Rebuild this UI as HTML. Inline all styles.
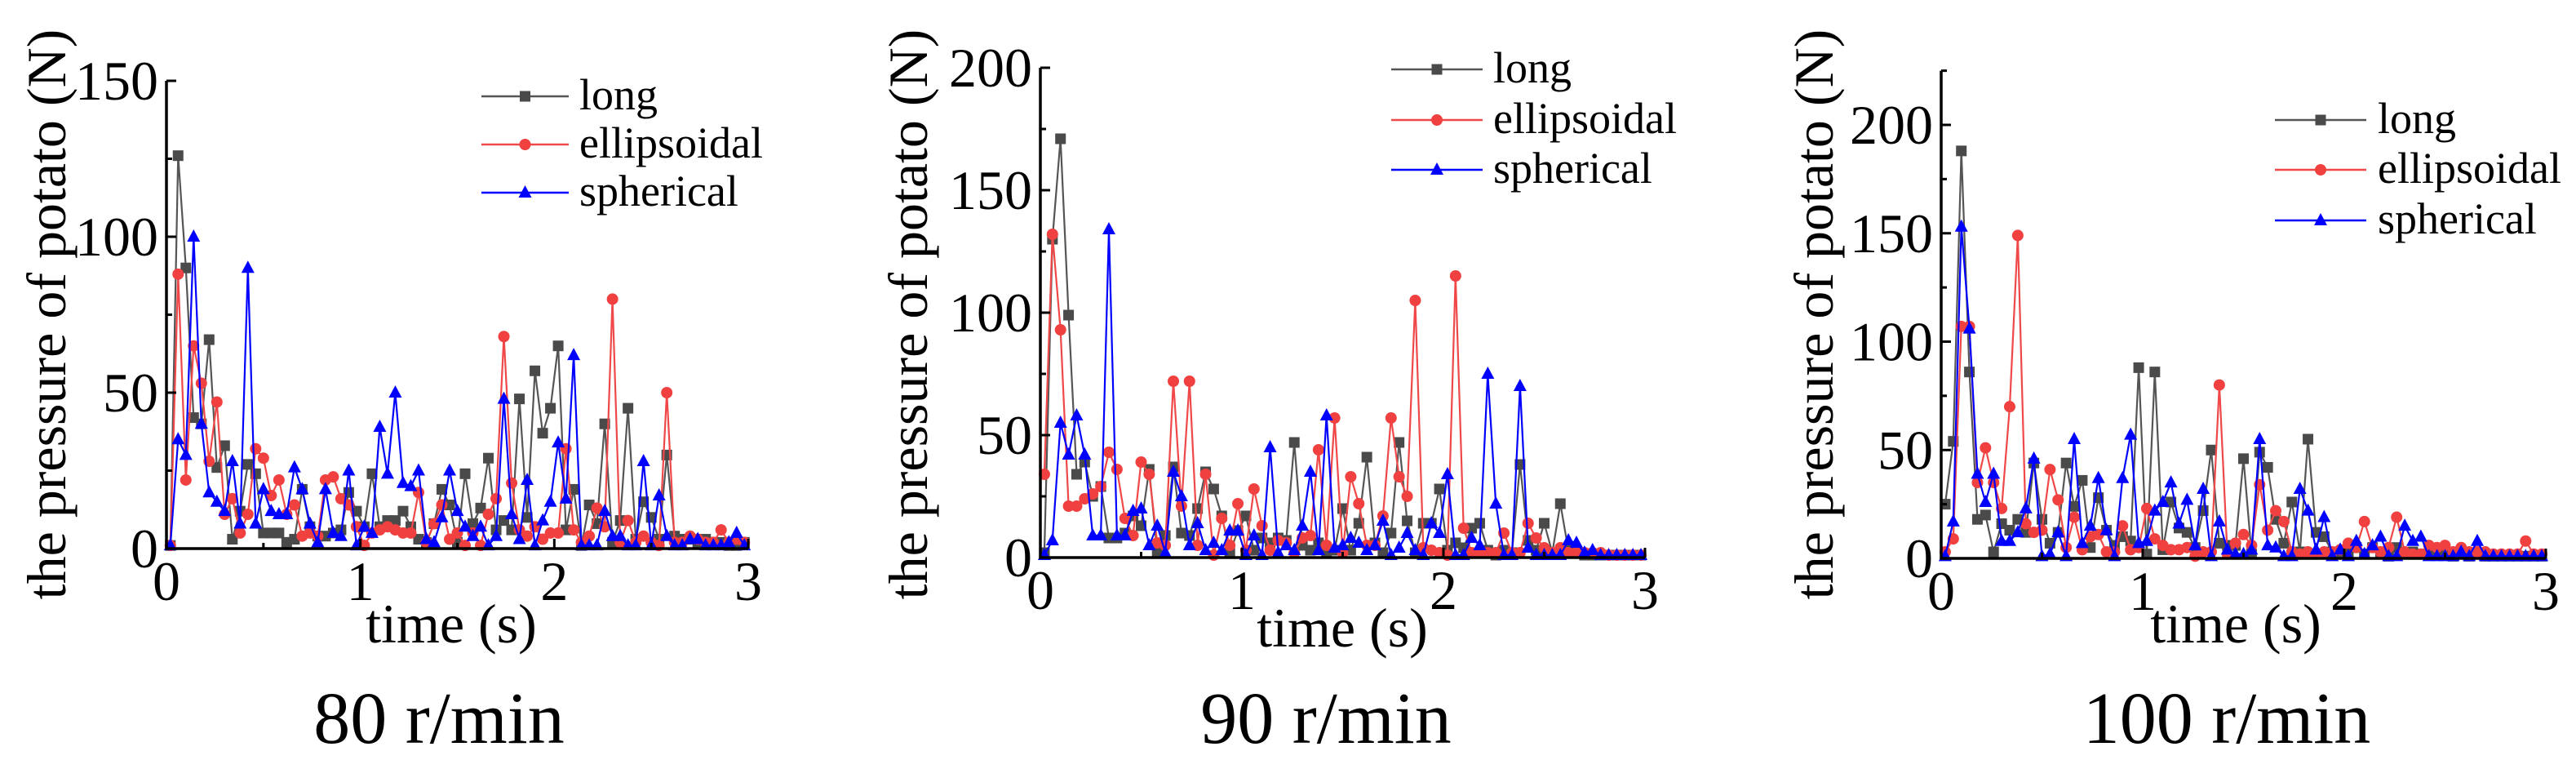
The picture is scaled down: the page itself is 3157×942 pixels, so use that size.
<!DOCTYPE html>
<html><head><meta charset="utf-8"><style>
html,body{margin:0;padding:0;background:#fff;}
svg{display:block;}
svg text{font-family:"Liberation Serif","Times New Roman",serif;}
</style></head><body>
<svg id="fig" width="3157" height="942" viewBox="0 0 3157 942" xmlns="http://www.w3.org/2000/svg" font-family="Liberation Serif, serif"></svg>
<script>
// ----- data (time grid: 0.02 + 0.04*k seconds, 75 samples) -----
const timeSamples = [0.02,0.06,0.10,0.14,0.18,0.22,0.26,0.30,0.34,0.38,0.42,0.46,0.50,0.54,0.58,0.62,0.66,0.70,0.74,0.78,0.82,0.86,0.90,0.94,0.98,1.02,1.06,1.10,1.14,1.18,1.22,1.26,1.30,1.34,1.38,1.42,1.46,1.50,1.54,1.58,1.62,1.66,1.70,1.74,1.78,1.82,1.86,1.90,1.94,1.98,2.02,2.06,2.10,2.14,2.18,2.22,2.26,2.30,2.34,2.38,2.42,2.46,2.50,2.54,2.58,2.62,2.66,2.70,2.74,2.78,2.82,2.86,2.90,2.94,2.98];
const seriesNames = ["long","ellipsoidal","spherical"];
const xTickLabels = ["0","1","2","3"];
const panelTitles = ["80 r/min","90 r/min","100 r/min"];

const p80Long = [1,126,90,42,40,67,26,33,3,12,27,24,5,5,5,2,3,19,7,4,4,5,6,18,12,7,24,7,9,9,12,7,3,2,8,19,14,2,24,8,13,29,6,9,6,48,10,57,37,45,65,6,19,1,14,8,40,2,9,45,3,15,10,3,30,4,3,3,2,3,2,2,1,1,2];
const p80Ellip = [1,88,22,65,53,28,47,11,16,5,11,32,29,17,22,11,14,4,5,4,22,23,16,14,7,1,5,6,7,6,5,5,18,2,8,14,3,5,1,5,1,11,16,68,21,6,4,7,3,5,5,32,6,2,4,13,7,80,2,9,2,4,2,1,50,2,2,4,3,2,2,6,2,3,2];
const p80Sph = [1,35,30,100,40,18,15,12,28,8,90,8,19,12,11,11,26,19,8,2,19,5,4,25,1,7,5,39,24,50,21,20,25,3,2,10,25,12,7,4,7,1,4,48,11,3,22,1,9,15,34,16,62,1,1,1,12,4,4,1,1,28,1,17,4,1,1,3,3,1,1,1,2,5,1];

const p90Long = [2,130,171,99,34,39,25,29,8,8,10,17,13,36,2,9,37,10,9,20,35,28,17,2,11,17,3,8,6,8,7,47,5,3,6,2,3,20,3,14,41,6,2,10,47,15,2,14,14,28,3,6,4,12,14,3,1,3,2,38,7,3,14,2,22,3,2,1,1,1,1,1,1,1,1];
const p90Ellip = [34,132,93,21,21,24,26,29,43,36,16,9,39,34,6,5,72,21,72,5,34,1,16,5,22,3,28,13,3,7,6,2,8,9,44,5,57,2,33,22,5,5,17,57,33,25,105,4,3,2,1,115,12,2,2,2,2,10,2,2,14,8,4,2,4,2,2,2,2,2,1,1,1,1,1];
const p90Sph = [1,7,55,42,58,42,9,9,134,9,9,19,20,5,13,2,35,25,5,14,3,6,3,11,11,1,9,1,45,2,5,3,13,35,3,58,4,5,8,6,3,5,15,1,4,10,3,1,14,10,34,1,1,8,5,75,22,1,1,70,4,1,1,1,1,7,6,2,3,1,1,1,1,1,1];

const p100Long = [25,54,188,86,18,20,3,16,13,18,12,44,18,7,12,44,24,36,5,28,13,6,10,8,88,2,86,4,26,14,12,5,22,50,7,6,6,46,2,49,42,18,7,26,3,55,12,10,3,2,3,5,2,5,3,1,5,2,3,2,2,2,2,1,2,1,2,1,1,1,1,1,1,1,1];
const p100Ellip = [3,9,107,107,35,51,35,23,70,149,16,12,13,41,27,5,19,4,10,11,3,3,15,4,5,23,9,6,4,4,5,1,3,3,80,2,7,11,6,34,13,22,17,3,2,3,2,3,3,4,7,5,17,5,3,5,19,3,2,2,6,5,6,3,5,3,3,3,2,2,2,2,8,2,2];
const p100Sph = [1,17,153,106,39,26,39,8,8,12,23,46,1,2,12,1,55,7,15,37,13,1,37,57,7,8,22,26,35,16,27,6,32,1,17,4,2,2,4,55,6,5,1,1,32,22,4,19,1,4,1,8,2,6,10,1,1,15,8,10,1,1,1,1,3,1,8,1,1,1,1,1,1,1,1];

// ----- rendering -----
const NS = "http://www.w3.org/2000/svg";
const svg = document.getElementById("fig");
const COLORS = ["#4a4a4a","#f04040","#0000ff"];
const LINECOL = ["#555555","#f04848","#0000ff"];
const FONT = "Liberation Serif, Times New Roman, serif";

function mk(tag, attrs, parent){
  const e = document.createElementNS(NS, tag);
  for (const k in attrs) e.setAttribute(k, attrs[k]);
  if (tag === "text") e.setAttribute("font-family", FONT);
  (parent||svg).appendChild(e);
  return e;
}
function marker(g, type, x, y, color){
  let m;
  if (type===0){ m = mk("rect",{x:x-6.5,y:y-6.5,width:13,height:13,fill:color},g); }
  else if (type===1){ m = mk("circle",{cx:x,cy:y,r:7,fill:color},g); }
  else { m = mk("polygon",{points:(x)+","+(y-9)+" "+(x-8)+","+(y+6)+" "+(x+8)+","+(y+6),fill:color},g); }
  return m;
}

const panels = [
  {id:"80", x0:204, x1:917, y0:672, yTopVal:150, yTopPx:99, yMax:150, yTicks:[0,50,100,150], data:[p80Long,p80Ellip,p80Sph],
   yTitleX:58, xTitleX:553, xTitleY:787, titleX:538, leg:{lx0:590, lx1:697, tx:710, ys:[118,177,236]}},
  {id:"90", x0:1275, x1:2016, y0:683, yTopVal:200, yTopPx:83, yMax:200, yTicks:[0,50,100,150,200], data:[p90Long,p90Ellip,p90Sph],
   yTitleX:1114, xTitleX:1645, xTitleY:792, titleX:1625, leg:{lx0:1705, lx1:1817, tx:1830, ys:[85,147,208]}},
  {id:"100", x0:2379, x1:3120, y0:684, yTopVal:200, yTopPx:153, yMax:225, yTicks:[0,50,100,150,200], data:[p100Long,p100Ellip,p100Sph],
   yTitleX:2224, xTitleX:2740, xTitleY:787, titleX:2729, leg:{lx0:2788, lx1:2900, tx:2914, ys:[147,208,270]}}
];

panels.forEach((p, pi) => {
  const g = mk("g", {});
  
  
  const sx = t => p.x0 + (p.x1 - p.x0) * t / 3;
  const sy = v => p.y0 - (p.y0 - p.yTopPx) * v / p.yTopVal;
  const topPx = sy(p.yMax);

  p.data.forEach((vals, si) => {
    const sg = mk("g", {}, g);
    
    
    const pts = vals.map((v, i) => sx(timeSamples[i]).toFixed(1) + "," + sy(v).toFixed(1)).join(" ");
    const pl = mk("polyline", {points:pts, fill:"none", stroke:LINECOL[si], "stroke-width":2.2, "stroke-linejoin":"round"}, sg);
    
    
    vals.forEach((v, i) => {
      const m = marker(sg, si, sx(timeSamples[i]), sy(v), COLORS[si]);
      
      
    });
  });

  const ax = mk("path", {d:"M"+p.x0+","+topPx+" L"+p.x0+","+p.y0+" L"+p.x1+","+p.y0, fill:"none", stroke:"#000", "stroke-width":3.5}, g);
  
  
  for (let v = 0; v <= p.yMax + 0.01; v += 25) {
    const major = (v % 50 === 0);
    const t = mk("line", {x1:p.x0, x2:p.x0 + (major?12:7), y1:sy(v), y2:sy(v), stroke:"#000", "stroke-width":3}, g);
    
    
  }
  p.yTicks.forEach(v => {
    const tx = mk("text", {x:p.x0 - 10, y:sy(v) + 23, "font-size":68, "text-anchor":"end", fill:"#000"}, g);
    tx.textContent = String(v);
    
    
  });
  for (let i = 0; i <= 6; i++) {
    const tv = i * 0.5;
    const major = (i % 2 === 0);
    const t = mk("line", {x1:sx(tv), x2:sx(tv), y1:p.y0, y2:p.y0 - (major?12:7), stroke:"#000", "stroke-width":3}, g);
    
    
  }
  xTickLabels.forEach((lab, i) => {
    const tx = mk("text", {x:sx(i), y:p.y0 + 63, "font-size":68, "text-anchor":"middle", fill:"#000"}, g);
    tx.textContent = lab;
    
    
  });
  const xt = mk("text", {x:p.xTitleX, y:p.xTitleY, "font-size":68, "text-anchor":"middle", fill:"#000"}, g);
  xt.textContent = "time (s)";
  
  
  const yt = mk("text", {x:0, y:0, "font-size":68, "text-anchor":"middle", fill:"#000",
    transform:"translate(" + (p.yTitleX + 22) + ",385) rotate(-90)"}, g);
  yt.textContent = "the pressure of potato (N)";
  
  
  const tt = mk("text", {x:p.titleX, y:910, "font-size":90, "text-anchor":"middle", fill:"#000"}, g);
  tt.textContent = panelTitles[pi];
  
  
  const lg = mk("g", {}, g);
  
  
  seriesNames.forEach((nm, si) => {
    const y = p.leg.ys[si];
    const eg = mk("g", {}, lg);
    
    
    mk("line", {x1:p.leg.lx0, x2:p.leg.lx1, y1:y, y2:y, stroke:LINECOL[si], "stroke-width":2.5}, eg);
    marker(eg, si, (p.leg.lx0 + p.leg.lx1) / 2, y, COLORS[si]);
    const lt = mk("text", {x:p.leg.tx, y:y + 16, "font-size":54, fill:"#000"}, eg);
    lt.textContent = nm;
    
    
  });
});
</script>
</body></html>
